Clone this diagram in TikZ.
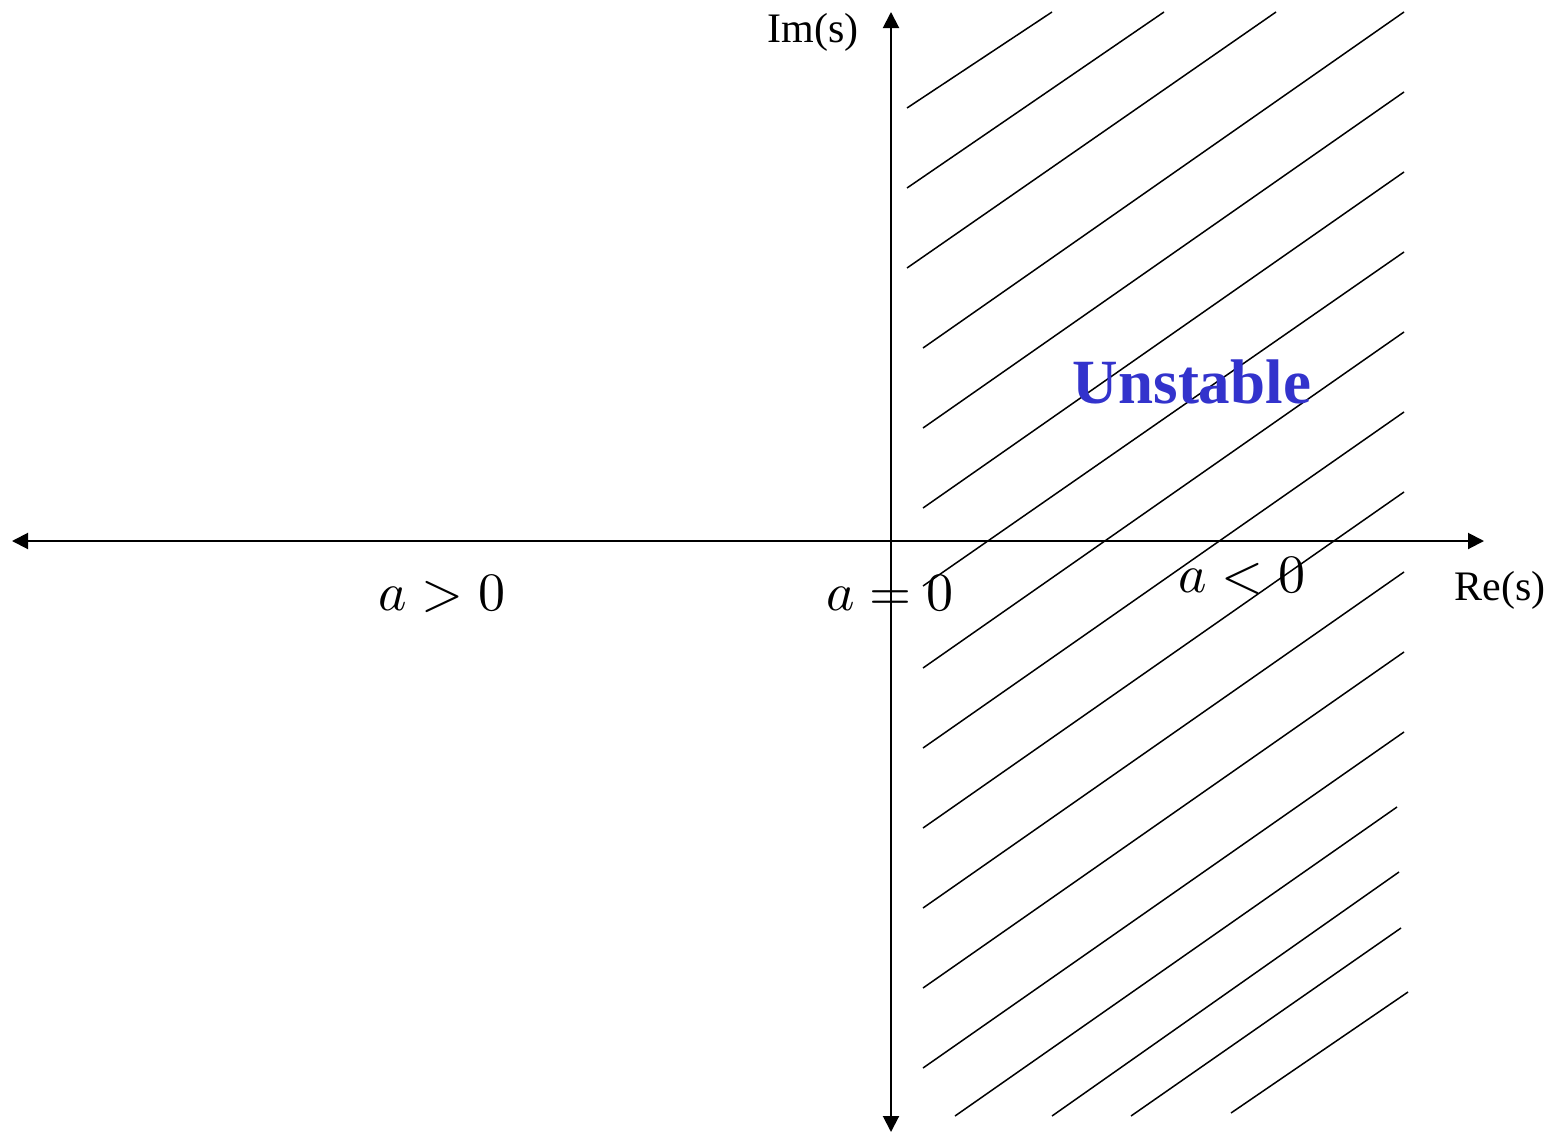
\documentclass[tikz,border=0pt]{standalone}
\usepackage{fontspec}
\setmainfont{Liberation Serif}
\usetikzlibrary{arrows.meta}
\definecolor{unstblue}{HTML}{3333CC}
\tikzset{
  axis/.style={line width=2pt, {Triangle[length=16pt,width=16pt]}-{Triangle[length=16pt,width=16pt]}},
  hatch/.style={line width=1.5pt},
  axlabel/.style={font=\fontsize{42}{50}\selectfont, inner sep=0pt, anchor=base},
  mathlabel/.style={font=\normalsize, scale=5.4, inner sep=0pt, anchor=base},
  biglabel/.style={font=\fontsize{63}{70}\selectfont\bfseries, text=unstblue, inner sep=0pt, anchor=base}
}
\begin{document}
\begin{tikzpicture}[x=1pt,y=-1pt]
\useasboundingbox (0,0) rectangle (1559,1133);
% hatch lines
\foreach \xa/\ya/\xb/\yb in {
  907/108/1052/12, 907/188/1164/12, 907/268/1276/12, 923/348/1404/12,
  923/428/1404/92, 923/508/1404/172, 923/586/1404/252, 923/668/1404/332,
  923/748/1404/412, 923/828/1404/492, 923/908/1404/572, 923/988/1404/652,
  923/1068/1404/732, 955/1116/1397/807, 1052/1116/1399/872, 1131/1116/1401/928,
  1231/1113/1408/992}
  \draw[hatch] (\xa,\ya) -- (\xb,\yb);
% axes
\coordinate (W) at (12,541);
\coordinate (E) at (1484,541);
\coordinate (N) at (891,12);
\coordinate (S) at (891,1132);
\draw[axis] (W) -- (E);
\draw[axis] (S) -- (N);
% labels
\node[axlabel] (im) at (813,42) {Im(s)};
\node[axlabel] (re) at (1500,600) {Re(s)};
\node[biglabel] (unst) at (1192,403) {Unstable};
\node[mathlabel] (apos) at (442,610) {$a>0$};
\node[mathlabel] (azero) at (890,610) {$a=0$};
\node[mathlabel] (aneg) at (1242,592) {$a<0$};
\end{tikzpicture}
\end{document}
